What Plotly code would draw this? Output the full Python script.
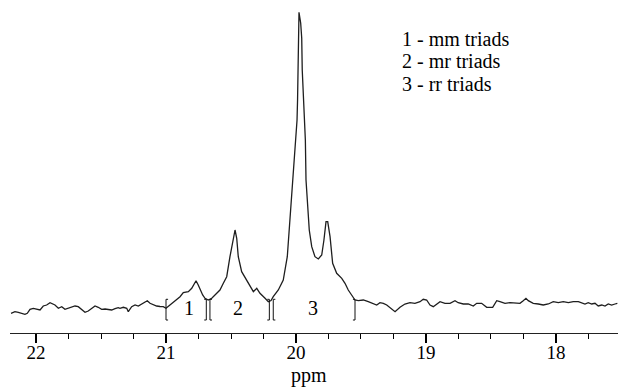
import plotly.graph_objects as go

# Spectrum: chemical shift (ppm) and intensity (arbitrary units)
ppm = [22.192, 22.162, 22.136, 22.110, 22.085, 22.067, 22.046, 22.021, 21.995, 21.969,
       21.944, 21.918, 21.892, 21.872, 21.854, 21.828, 21.802, 21.777, 21.752, 21.725,
       21.700, 21.675, 21.648, 21.623, 21.598, 21.572, 21.546, 21.521, 21.495, 21.469,
       21.444, 21.418, 21.392, 21.367, 21.354, 21.328, 21.302, 21.290, 21.264, 21.238,
       21.213, 21.187, 21.162, 21.144, 21.123, 21.098, 21.072, 21.046, 21.021, 21.000,
       20.969, 20.931, 20.892, 20.867, 20.828, 20.802, 20.790, 20.769, 20.752, 20.738,
       20.718, 20.700, 20.682, 20.675, 20.648, 20.623, 20.585, 20.559, 20.533, 20.508,
       20.482, 20.469, 20.456, 20.444, 20.418, 20.379, 20.354, 20.328, 20.302, 20.277,
       20.238, 20.213, 20.192, 20.175, 20.136, 20.098, 20.067, 20.052, 20.041, 20.033,
       20.025, 20.012, 20.000, 19.992, 19.988, 19.982, 19.981, 19.977, 19.964, 19.956,
       19.952, 19.944, 19.936, 19.928, 19.923, 19.913, 19.898, 19.879, 19.854, 19.828,
       19.802, 19.785, 19.769, 19.756, 19.738, 19.718, 19.687, 19.648, 19.623, 19.598,
       19.569, 19.546, 19.521, 19.482, 19.444, 19.405, 19.379, 19.354, 19.328, 19.302,
       19.277, 19.238, 19.200, 19.162, 19.123, 19.085, 19.046, 19.021, 18.995, 18.969,
       18.944, 18.918, 18.892, 18.854, 18.815, 18.777, 18.752, 18.713, 18.675, 18.636,
       18.610, 18.572, 18.533, 18.487, 18.456, 18.431, 18.392, 18.354, 18.315, 18.277,
       18.252, 18.231, 18.213, 18.175, 18.136, 18.098, 18.059, 18.021, 17.982, 17.944,
       17.905, 17.867, 17.828, 17.802, 17.777, 17.752, 17.725, 17.700, 17.675, 17.648,
       17.623, 17.598, 17.572, 17.546, 17.528]
intensity = [-3.3, -1.7, -2.3, -3.3, -4.3, -3.3, 0.7, 1.7, 1.0, 0.0,
             4.0, 5.0, 7.3, 6.0, 5.0, 1.7, 3.3, 0.7, 1.7, 3.3,
             4.0, 3.3, 0.0, -2.3, -1.0, 1.7, 4.0, 2.7, 0.7, 1.0,
             0.7, 0.0, 1.3, 2.3, 1.7, 2.7, 1.7, -1.7, 3.3, 5.0,
             4.0, 6.0, 7.7, 9.3, 6.7, 5.0, 4.0, 3.5, 3.3, 1.7,
             5.0, 8.3, 13.3, 17.3, 18.3, 21.7, 25.0, 29.3, 25.0, 20.0,
             15.0, 11.7, 10.7, 10.0, 11.7, 15.0, 20.0, 26.7, 33.3, 53.3,
             73.3, 80.0, 71.7, 53.3, 38.3, 30.0, 23.3, 18.3, 21.7, 16.7,
             11.7, 8.3, 9.5, 13.3, 20.0, 30.0, 53.3, 80.0, 103.3, 120.0,
             130.0, 150.0, 170.0, 190.0, 210.0, 250.0, 282.0, 297.7, 287.0, 272.0,
             240.0, 220.0, 202.0, 170.0, 130.0, 110.0, 80.0, 63.3, 53.3, 51.0,
             55.0, 70.0, 88.3, 88.3, 73.3, 46.7, 36.7, 31.7, 26.7, 20.0,
             15.0, 10.0, 9.3, 10.0, 8.3, 6.0, 5.0, 7.3, 6.7, 5.0,
             2.7, -1.7, 2.7, 6.0, 7.3, 6.7, 8.3, 10.7, 10.0, 5.0,
             3.3, 6.0, 8.3, 6.7, 6.7, 9.3, 7.3, 6.0, 6.0, 4.0,
             6.7, 6.7, 2.7, 2.7, 9.3, 8.3, 6.7, 7.3, 6.7, 6.7,
             9.3, 11.7, 9.3, 6.7, 6.0, 5.0, 6.0, 8.3, 7.3, 8.3,
             7.3, 8.3, 8.3, 7.3, 6.0, 7.3, 6.0, 6.7, 4.0, 5.0,
             4.0, 6.0, 5.0, 6.0, 6.7]

# Integration brackets: position (ppm) and side ("[" opens, "]" closes)
bracket_ppm = [21.000, 20.690, 20.662, 20.205, 20.175, 19.546]
bracket_side = ["[", "]", "[", "]", "[", "]"]
bracket_top = 10.7
bracket_bottom = -10.0

# Region labels
region_labels = ["1", "2", "3"]
region_ppm = [20.823, 20.446, 19.869]
region_y = [2.0, 2.0, 2.0]

legend_lines = ["1 - mm triads", "2 - mr triads", "3 - rr triads"]

tick_vals = [22, 21, 20, 19, 18]
tick_text = ["22", "21", "20", "19", "18"]
x_title = "ppm"

FONT = "Liberation Serif, Times New Roman, Times, serif"

fig = go.Figure()
fig.add_trace(go.Scatter(x=ppm, y=intensity, mode="lines",
                         line=dict(color="#1e1e1e", width=1.3),
                         hoverinfo="skip", showlegend=False))

# bracket path
serif = 0.016
bx, by = [], []
for p, side in zip(bracket_ppm, bracket_side):
    s = p - serif if side == "[" else p + serif
    bx += [s, p, p, s, None]
    by += [bracket_top, bracket_top, bracket_bottom, bracket_bottom, None]
fig.add_trace(go.Scatter(x=bx, y=by, mode="lines",
                         line=dict(color="#111111", width=1),
                         hoverinfo="skip", showlegend=False))

for lab, px, py in zip(region_labels, region_ppm, region_y):
    fig.add_annotation(x=px, y=py, xref="x", yref="y", text=lab, showarrow=False,
                       font=dict(family=FONT, size=20, color="black"))

legend_y = [0.897, 0.829, 0.760]
for txt, ly in zip(legend_lines, legend_y):
    fig.add_annotation(x=0.6414, y=ly, xref="paper", yref="paper", text=txt,
                       showarrow=False, xanchor="left", yanchor="middle",
                       font=dict(family=FONT, size=20, color="black"))

# axis title placed under the tick labels
fig.add_annotation(x=0.492, y=-0.172, xref="paper", yref="paper", text=x_title,
                   showarrow=False, xanchor="center", yanchor="bottom",
                   font=dict(family=FONT, size=20, color="black"))

fig.update_layout(
    width=618, height=388,
    margin=dict(l=10, r=0, t=5, b=55),
    paper_bgcolor="white", plot_bgcolor="white",
    font=dict(family=FONT, color="black"),
    xaxis=dict(range=[22.2, 17.523], tickvals=tick_vals, ticktext=tick_text,
               ticks="outside", ticklen=9, tickwidth=2, tickcolor="black",
               ticklabelstandoff=-7,
               showline=True, linecolor="#222222", linewidth=1,
               showgrid=False, zeroline=False,
               tickfont=dict(family=FONT, size=19, color="black"),
               automargin=False,
               minor=dict(dtick=0.25, tick0=0, ticks="outside", ticklen=5,
                          tickwidth=1, tickcolor="black", showgrid=False)),
    yaxis=dict(visible=False, range=[-23, 305], fixedrange=True),
)

fig.write_html("out.html", config={"displayModeBar": False, "staticPlot": True},
               post_script="document.body.style.margin='0';document.body.style.padding='0';")
